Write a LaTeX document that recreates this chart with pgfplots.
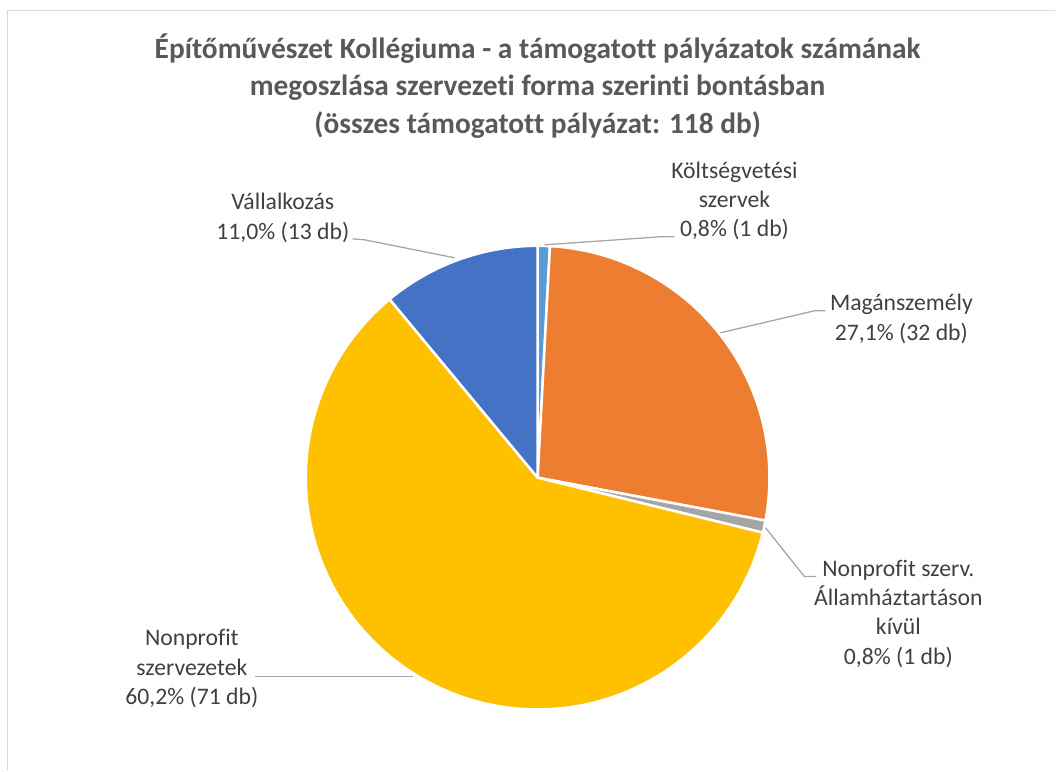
\documentclass[border=0pt]{standalone}
\usepackage{pgfplots}
\usepackage{pgfplotstable}
\pgfplotsset{compat=1.18}
\usepackage{fontspec}
\setmainfont{Carlito}[Ligatures=NoCommon]

\definecolor{cKolt}{HTML}{5B9BD5}
\definecolor{cMagan}{HTML}{ED7D31}
\definecolor{cAllam}{HTML}{A5A5A5}
\definecolor{cNonpr}{HTML}{FFC000}
\definecolor{cVall}{HTML}{4472C4}
\definecolor{titlegray}{HTML}{595959}
\definecolor{labelgray}{HTML}{404040}
\definecolor{leader}{HTML}{A6A6A6}
\definecolor{frame}{HTML}{D9D9D9}

% supported applications by organisational form (count)
\pgfplotstableread{
id count
1 1
2 32
3 1
4 71
5 13
}\piedata

\pgfplotstablegetelem{0}{count}\of\piedata\let\nA\pgfplotsretval
\pgfplotstablegetelem{1}{count}\of\piedata\let\nB\pgfplotsretval
\pgfplotstablegetelem{2}{count}\of\piedata\let\nC\pgfplotsretval
\pgfplotstablegetelem{3}{count}\of\piedata\let\nD\pgfplotsretval
\pgfplotstablegetelem{4}{count}\of\piedata\let\nE\pgfplotsretval
\pgfmathsetmacro\tot{\nA+\nB+\nC+\nD+\nE}
% slice boundaries, clockwise from 12 o'clock
\pgfmathsetmacro\aA{90-\nA/\tot*360}
\pgfmathsetmacro\aB{\aA-\nB/\tot*360}
\pgfmathsetmacro\aC{\aB-\nC/\tot*360}
\pgfmathsetmacro\aD{\aC-\nD/\tot*360}
\pgfmathsetmacro\aE{\aD-\nE/\tot*360}

\newcommand\cx{538}
\newcommand\cy{478}
\newcommand\rr{232}

\begin{document}
\begin{tikzpicture}
\begin{axis}[
    scale only axis,
    width=1056bp, height=771bp,
    xmin=0, xmax=1056, ymin=0, ymax=771,
    y dir=reverse,
    hide axis,
    clip=false,
    samples=120,
]
\path (axis cs:0,0) rectangle (axis cs:1056,771);
\draw[frame, line width=1.5bp] (axis cs:7.5,771) -- (axis cs:7.5,10.5) -- (axis cs:1056,10.5);

\pgfplotsset{pie/.style={draw=white, line width=2.5bp, line join=round, variable=\t}}
\addplot[pie, fill=cKolt, domain=\aA:90] ({\cx+\rr*cos(\t)},{\cy-\rr*sin(\t)}) -- (axis cs:\cx,\cy) -- cycle;
\addplot[pie, fill=cMagan, domain=\aB:\aA] ({\cx+\rr*cos(\t)},{\cy-\rr*sin(\t)}) -- (axis cs:\cx,\cy) -- cycle;
\addplot[pie, fill=cAllam, domain=\aC:\aB] ({\cx+\rr*cos(\t)},{\cy-\rr*sin(\t)}) -- (axis cs:\cx,\cy) -- cycle;
\addplot[pie, fill=cNonpr, domain=\aD:\aC] ({\cx+\rr*cos(\t)},{\cy-\rr*sin(\t)}) -- (axis cs:\cx,\cy) -- cycle;
\addplot[pie, fill=cVall, domain=\aE:\aD] ({\cx+\rr*cos(\t)},{\cy-\rr*sin(\t)}) -- (axis cs:\cx,\cy) -- cycle;

% leader lines
\draw[leader, line width=1.3bp] (axis cs:353,239) -- (axis cs:365,240) -- (axis cs:455,258);
\draw[leader, line width=1.3bp] (axis cs:675,237) -- (axis cs:660,237) -- (axis cs:545,245);
\draw[leader, line width=1.3bp] (axis cs:826,311) -- (axis cs:815,311) -- (axis cs:721,333);
\draw[leader, line width=1.3bp] (axis cs:766,528) -- (axis cs:805,577) -- (axis cs:817,577);
\draw[leader, line width=1.3bp] (axis cs:255,677) -- (axis cs:413,677);

% title
\node[align=center, text=titlegray, font=\fontsize{29.5}{37.5}\selectfont\bfseries]
  at (axis cs:538,86) {Építőművészet Kollégiuma - a támogatott pályázatok számának\\
  megoszlása szervezeti forma szerinti bontásban\\
  (összes támogatott pályázat: 118 db)};

% data labels
\tikzset{lbl/.style={align=center, text=labelgray, font=\fontsize{23.8}{29.5}\selectfont, inner sep=0pt}}
\node[lbl] at (axis cs:735,201) {Költségvetési\\szervek\\0,8\% (1 db)};
\node[lbl] at (axis cs:902,319) {Magánszemély\\27,1\% (32 db)};
\node[lbl] at (axis cs:899,614) {Nonprofit szerv.\\Államháztartáson\\kívül\\0,8\% (1 db)};
\node[lbl] at (axis cs:192,669) {Nonprofit\\szervezetek\\60,2\% (71 db)};
\node[lbl] at (axis cs:283,218) {Vállalkozás\\11,0\% (13 db)};
\end{axis}
\end{tikzpicture}
\end{document}
